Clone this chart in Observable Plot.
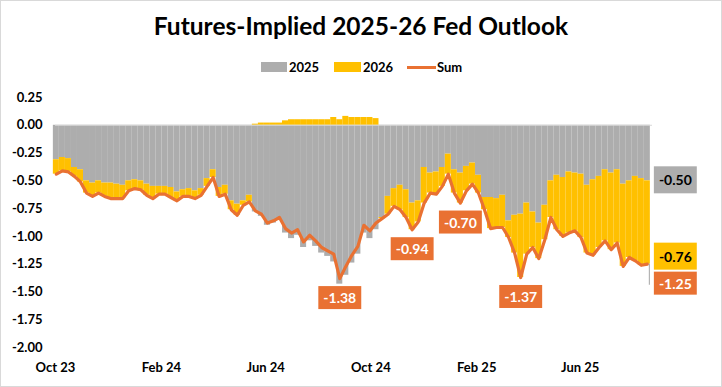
<!DOCTYPE html>
<html>
<head>
<meta charset="utf-8">
<script src="https://cdn.jsdelivr.net/npm/d3@7"></script>
<script src="https://cdn.jsdelivr.net/npm/@observablehq/plot@0.6"></script>
<style>
  body { margin: 0; background: #fff; }
  #chart { position: relative; width: 722px; height: 387px; box-shadow: inset 0 0 0 1px #d9d9d9; font-family: Lato, "Liberation Sans", sans-serif; overflow: hidden; background: #fff; }
  #title { position: absolute; left: 0; top: 11px; width: 722px; text-align: center; font-weight: 700; font-size: 24.5px; line-height: 30px; color: #000; }
  .lg { position: absolute; font-weight: 700; font-size: 13px; line-height: 14px; color: #000; }
  .sw { position: absolute; }
  #plot { position: absolute; left: 0; top: 80px; }
</style>
</head>
<body>
<div id="chart">
  <div id="title">Futures-Implied 2025-26 Fed Outlook</div>
  <div class="sw" style="left:261px;top:62px;width:26px;height:10px;background:#ADADAD"></div>
  <div class="lg" style="left:289px;top:60px">2025</div>
  <div class="sw" style="left:334px;top:62px;width:27px;height:10px;background:#FFC000"></div>
  <div class="lg" style="left:363px;top:60px">2026</div>
  <div class="sw" style="left:407px;top:66px;width:29px;height:3px;background:#E97132"></div>
  <div class="lg" style="left:437px;top:60px">Sum</div>
  <div id="plot"></div>
</div>
<script>
// ---- data (weekly readings, starting Mon 2 Oct 2023) ----
const startWeek = "2023-10-02";
const fed2025 = [
  -0.31,-0.29,-0.30,-0.38,-0.40,-0.50,-0.52,-0.50,-0.52,-0.52,
  -0.53,-0.54,-0.50,-0.49,-0.50,-0.53,-0.55,-0.55,-0.55,-0.56,
  -0.60,-0.58,-0.57,-0.59,-0.57,-0.48,-0.40,-0.56,-0.54,-0.68,
  -0.71,-0.68,-0.63,-0.78,-0.82,-0.90,-0.88,-0.85,-0.97,-1.02,
  -0.99,-1.10,-1.04,-1.09,-1.15,-1.18,-1.23,-1.43,-1.35,-1.24,
  -1.16,-0.97,-1.02,-0.94,-0.83,-0.64,-0.57,-0.54,-0.58,-0.70,
  -0.68,-0.38,-0.43,-0.42,-0.38,-0.26,-0.40,-0.43,-0.37,-0.34,
  -0.45,-0.65,-0.65,-0.66,-0.63,-0.86,-0.81,-0.80,-0.70,-0.78,
  -0.88,-0.72,-0.50,-0.45,-0.47,-0.42,-0.43,-0.44,-0.54,-0.49,
  -0.46,-0.40,-0.43,-0.40,-0.53,-0.50,-0.46,-0.48,-0.50
];
const fed2026 = [
  -0.13,-0.12,-0.12,-0.08,-0.11,-0.11,-0.12,-0.11,-0.12,-0.14,
  -0.13,-0.12,-0.09,-0.08,-0.08,-0.10,-0.11,-0.07,-0.07,-0.09,
  -0.08,-0.06,-0.07,-0.07,-0.06,-0.07,-0.07,-0.08,-0.08,-0.08,
  -0.10,-0.04,-0.06, 0.01, 0.02, 0.02, 0.02, 0.02, 0.04, 0.05,
   0.05, 0.05, 0.05, 0.05, 0.05, 0.05, 0.07, 0.05, 0.08, 0.07,
   0.07, 0.07, 0.07, 0.06,-0.01,-0.16,-0.16,-0.22,-0.25,-0.24,
  -0.19,-0.32,-0.18,-0.20,-0.17,-0.18,-0.21,-0.27,-0.22,-0.19,
  -0.16,-0.11,-0.28,-0.26,-0.29,-0.15,-0.34,-0.57,-0.46,-0.32,
  -0.32,-0.31,-0.33,-0.49,-0.53,-0.55,-0.52,-0.57,-0.61,-0.68,
  -0.64,-0.64,-0.69,-0.66,-0.74,-0.69,-0.76,-0.78,-0.75
];
// callouts on the Sum line: week index and label value
const calloutWeek  = [47, 59, 67, 77];
const calloutValue = [-1.38, -0.94, -0.70, -1.37];
// latest values shown at the right
const endSeries = ["2025", "2026", "Sum"];
const endValue  = [-0.50, -0.76, -1.25];
const xTicks = ["2023-10-01","2024-02-01","2024-06-01","2024-10-01","2025-02-01","2025-06-01"];
const yTicks = [0.25,0,-0.25,-0.5,-0.75,-1,-1.25,-1.5,-1.75,-2];

const GRAY = "#ADADAD", GOLD = "#FFC000", ORANGE = "#E97132";
const t0 = new Date(startWeek);
const rows = fed2025.map((v, i) => {
  const date = d3.utcDay.offset(t0, 7 * i);
  const v26 = fed2026[i];
  return {
    date,
    x1: d3.utcHour.offset(date, -84),
    x2: d3.utcHour.offset(date, 84),
    v25: v, v26,
    sum: +(v + v26).toFixed(3),
    y26a: v26 < 0 ? v : 0,
    y26b: v26 < 0 ? v + v26 : v26
  };
});
const last = rows[rows.length - 1];
const callouts = calloutWeek.map((k, j) => ({date: rows[k].date, y: rows[k].sum, label: calloutValue[j].toFixed(2)}));
const endRows = [
  {date: last.date, y: last.v25, label: endValue[0].toFixed(2)},
  {date: last.date, y: last.sum, label: endValue[1].toFixed(2)},
  {date: last.date, y: last.sum, label: endValue[2].toFixed(2)}
];

const plot = Plot.plot({
  width: 722, height: 307,
  marginTop: 17, marginBottom: 40, marginLeft: 55, marginRight: 70,
  style: {fontFamily: "Lato, 'Liberation Sans', sans-serif", fontSize: "13px", fontWeight: 700, color: "#000", background: "transparent"},
  x: {type: "utc", domain: [new Date("2023-10-01"), new Date("2025-08-24")],
      ticks: xTicks.map(d => new Date(d)), tickFormat: d3.utcFormat("%b %y"), tickSize: 0, tickPadding: 15, label: null},
  y: {domain: [-2, 0.25], ticks: yTicks, tickFormat: d => d.toFixed(2), tickSize: 0, tickPadding: 13, label: null},
  marks: [
    Plot.rectY(rows, {x1: "x1", x2: "x2", y1: 0, y2: "v25", fill: GRAY}),
    Plot.rectY(rows, {x1: "x1", x2: "x2", y1: "y26a", y2: "y26b", fill: GOLD}),
    Plot.ruleY([0], {stroke: "#d9d9d9", strokeWidth: 1}),
    Plot.lineY(rows, {x: "date", y: "sum", stroke: ORANGE, strokeWidth: 3.2, strokeLinejoin: "round"}),
    Plot.ruleX([last], {x: "date", y1: "sum", y2: d => d.sum - 0.19, stroke: "#A5A5A5", strokeWidth: 1, dx: 2}),
    Plot.text(callouts, {x: "date", y: "y", text: "label", dy: 20, fill: "#fff", fontSize: 14, fontWeight: 700, className: "callout-orange"}),
    Plot.text([endRows[0]], {x: "date", y: "y", text: "label", dx: 28, fill: "#000", fontSize: 14, fontWeight: 700, className: "end-gray"}),
    Plot.text([endRows[1]], {x: "date", y: "y", text: "label", dx: 28, dy: -7, fill: "#000", fontSize: 14, fontWeight: 700, className: "end-gold"}),
    Plot.text([endRows[2]], {x: "date", y: "y", text: "label", dx: 28, dy: 20, fill: "#fff", fontSize: 14, fontWeight: 700, className: "end-orange"})
  ]
});
document.getElementById("plot").appendChild(plot);

// boxes behind the value labels
function boxes(cls, color, padX, padY) {
  let texts = plot.querySelectorAll(`.${cls} text, text.${cls}`);
  texts.forEach(t => {
    const b = t.getBBox();
    const r = document.createElementNS("http://www.w3.org/2000/svg", "rect");
    r.setAttribute("x", b.x - padX);
    r.setAttribute("y", b.y - padY);
    r.setAttribute("width", b.width + 2 * padX);
    r.setAttribute("height", b.height + 2 * padY);
    r.setAttribute("fill", color);
    r.setAttribute("stroke", "none");
    if (t.getAttribute("transform")) r.setAttribute("transform", t.getAttribute("transform"));
    t.parentNode.insertBefore(r, t);
  });
}
boxes("callout-orange", ORANGE, 5, 3);
boxes("end-gray", GRAY, 5, 5);
boxes("end-gold", GOLD, 5, 5);
boxes("end-orange", ORANGE, 5, 3);
</script>
</body>
</html>
